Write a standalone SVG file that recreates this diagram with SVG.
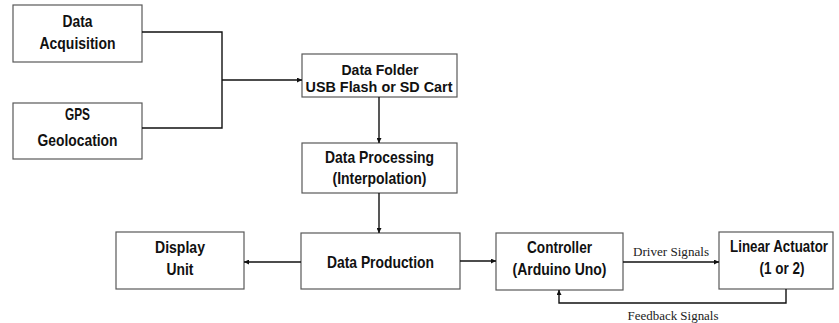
<svg xmlns="http://www.w3.org/2000/svg" width="839" height="323" viewBox="0 0 839 323">
  <style>
    .box { fill: #ffffff; stroke: #595959; stroke-width: 1.2; }
    .lbl { font-family: "Liberation Sans", Arial, sans-serif; font-weight: bold; font-size: 17px; fill: #111; text-anchor: middle; }
    .tight { font-size: 15.5px; }
    .wire { fill: none; stroke: #111; stroke-width: 1.4; }
    .sig { font-family: "Liberation Serif", "Times New Roman", serif; font-size: 12px; fill: #222; text-anchor: middle; }
  </style>
  <defs>
    <marker id="head" viewBox="0 0 8 8" refX="8" refY="4" markerWidth="5" markerHeight="5" orient="auto" markerUnits="userSpaceOnUse">
      <path d="M0,0 L8,4 L0,8 z" fill="#111"/>
    </marker>
  </defs>
  <rect width="839" height="323" fill="#ffffff"/>

  <!-- box labels use a condensed bold face, squeezed to width -->
  <g id="data-acquisition">
    <rect class="box" x="13" y="5" width="129" height="57"/>
    <text class="lbl" x="77.5" y="27" textLength="30" lengthAdjust="spacingAndGlyphs">Data</text>
    <text class="lbl" x="77.5" y="49" textLength="76" lengthAdjust="spacingAndGlyphs">Acquisition</text>
  </g>
  <g id="gps-geolocation">
    <rect class="box" x="13" y="103" width="129" height="56"/>
    <text class="lbl" x="77.5" y="120" textLength="25" lengthAdjust="spacingAndGlyphs">GPS</text>
    <text class="lbl" x="77.5" y="146" textLength="80" lengthAdjust="spacingAndGlyphs">Geolocation</text>
  </g>
  <g id="data-folder">
    <rect class="box" x="302" y="54" width="155" height="43"/>
    <text class="lbl tight" x="380" y="75" textLength="77" lengthAdjust="spacingAndGlyphs">Data Folder</text>
    <text class="lbl tight" x="379" y="92" textLength="147" lengthAdjust="spacingAndGlyphs">USB Flash or SD Cart</text>
  </g>
  <g id="data-processing">
    <rect class="box" x="302" y="143" width="155" height="50"/>
    <text class="lbl" x="379.5" y="163" textLength="109" lengthAdjust="spacingAndGlyphs">Data Processing</text>
    <text class="lbl" x="379.5" y="184" textLength="94" lengthAdjust="spacingAndGlyphs">(Interpolation)</text>
  </g>
  <g id="data-production">
    <rect class="box" x="301" y="233" width="159" height="56"/>
    <text class="lbl" x="380.5" y="268" textLength="107" lengthAdjust="spacingAndGlyphs">Data Production</text>
  </g>
  <g id="display-unit">
    <rect class="box" x="116" y="232" width="128" height="57"/>
    <text class="lbl" x="180" y="253" textLength="50" lengthAdjust="spacingAndGlyphs">Display</text>
    <text class="lbl" x="180" y="275" textLength="27" lengthAdjust="spacingAndGlyphs">Unit</text>
  </g>
  <g id="controller">
    <rect class="box" x="496" y="233" width="127" height="57"/>
    <text class="lbl" x="559.5" y="253" textLength="65" lengthAdjust="spacingAndGlyphs">Controller</text>
    <text class="lbl" x="559.5" y="275" textLength="94" lengthAdjust="spacingAndGlyphs">(Arduino Uno)</text>
  </g>
  <g id="linear-actuator">
    <rect class="box" x="719" y="232" width="114" height="57"/>
    <text class="lbl" transform="translate(779,252) scale(0.72,1)" x="0" y="0" textLength="136" lengthAdjust="spacingAndGlyphs">Linear Actuator</text>
    <text class="lbl" x="782" y="274" textLength="45" lengthAdjust="spacingAndGlyphs">(1 or 2)</text>
  </g>

  <g id="connectors">
    <polyline class="wire" points="142,32 222,32 222,128 142,128"/>
    <line class="wire" x1="222" y1="80" x2="302" y2="80" marker-end="url(#head)"/>
    <line class="wire" x1="379" y1="97" x2="379" y2="143" marker-end="url(#head)"/>
    <line class="wire" x1="379" y1="193" x2="379" y2="233" marker-end="url(#head)"/>
    <line class="wire" x1="301" y1="262" x2="244" y2="262" marker-end="url(#head)"/>
    <line class="wire" x1="460" y1="261" x2="496" y2="261" marker-end="url(#head)"/>
    <line class="wire" x1="623" y1="262" x2="719" y2="262" marker-end="url(#head)"/>
    <polyline class="wire" points="786,289 786,303 559,303 559,290" marker-end="url(#head)"/>
    <text class="sig" x="671" y="256" textLength="76" lengthAdjust="spacingAndGlyphs">Driver Signals</text>
    <text class="sig" x="673" y="320" textLength="91" lengthAdjust="spacingAndGlyphs">Feedback Signals</text>
  </g>
</svg>
